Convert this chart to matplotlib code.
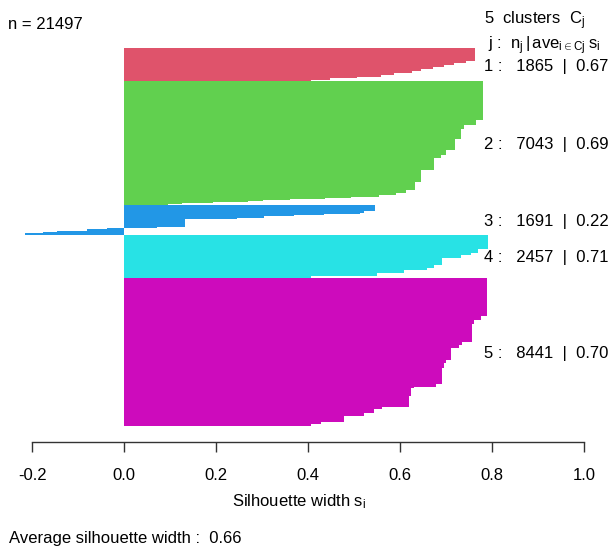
import numpy as np
import matplotlib
matplotlib.use("Agg")
import matplotlib.pyplot as plt
from matplotlib.transforms import offset_copy

plt.rcParams['font.family'] = ['Liberation Sans', 'DejaVu Sans']
plt.rcParams['mathtext.fontset'] = 'custom'
plt.rcParams['mathtext.rm'] = 'Liberation Sans'
plt.rcParams['mathtext.it'] = 'Liberation Sans'
plt.rcParams['mathtext.default'] = 'rm'

# silhouette widths per cluster, top -> bottom (sorted decreasing), with counts per step
cl1_s = [0.762, 0.742, 0.717, 0.695, 0.670, 0.644, 0.626, 0.586, 0.557, 0.506, 0.448, 0.405]
cl1_n = [728, 98, 98, 118, 137, 137, 98, 98, 98, 98, 98, 59]

cl2_s = [0.779, 0.764, 0.739, 0.731, 0.718, 0.699, 0.688, 0.673, 0.644, 0.633, 0.612,
         0.590, 0.553, 0.492, 0.437, 0.361, 0.302, 0.269, 0.193, 0.126, 0.095]
cl2_n = [2227, 284, 190, 569, 663, 284, 190, 663, 663, 474, 152,
         133, 95, 57, 57, 57, 57, 57, 57, 57, 57]

cl3_s = [0.546, 0.520, 0.513, 0.434, 0.368, 0.303, 0.245, 0.132, 0.070,
         -0.038, -0.082, -0.147, -0.176, -0.216]
cl3_n = [363, 120, 42, 60, 60, 78, 78, 440, 78, 78, 78, 78, 78, 60]

cl4_s = [0.791, 0.768, 0.753, 0.731, 0.691, 0.673, 0.659, 0.608, 0.550, 0.405]
cl4_n = [843, 188, 154, 131, 440, 131, 131, 188, 154, 97]

cl5_s = [0.788, 0.775, 0.760, 0.755, 0.735, 0.728, 0.710, 0.699, 0.695, 0.690,
         0.677, 0.630, 0.624, 0.619, 0.561, 0.542, 0.521, 0.477, 0.427, 0.405]
cl5_n = [2195, 227, 187, 1039, 187, 187, 665, 187, 284, 892,
         153, 97, 437, 608, 153, 187, 170, 341, 131, 114]

cluster_sizes = [1865, 7043, 1691, 2457, 8441]
cluster_aves = [0.67, 0.69, 0.22, 0.71, 0.70]
n_total = 21497
avg_width = 0.66
colors = ["#DF536B", "#61D04F", "#2297E6", "#28E2E5", "#CD0BBC"]
xticks = [-0.2, 0.0, 0.2, 0.4, 0.6, 0.8, 1.0]

sil = [cl1_s, cl2_s, cl3_s, cl4_s, cl5_s]
cnt = [cl1_n, cl2_n, cl3_n, cl4_n, cl5_n]

W, H = 608, 546
fig = plt.figure(figsize=(W / 100, H / 100), dpi=100)
ax = fig.add_axes([0, (H - 442.3) / H, 1, (442.3 - 32) / H])

x0, ppu = 124.3, 460.0  # pixel of x=0, pixels per unit
ax.set_xlim(-x0 / ppu, (W - x0) / ppu)
opp = n_total / 377.7
ax.set_ylim(-(442.3 - 426) * opp, n_total + (48.3 - 32) * opp)

centers = [0] * 5
bottom = 0
for k in reversed(range(5)):
    s = np.array(sil[k][::-1])
    c = np.array(cnt[k][::-1])
    ys = bottom + np.cumsum(c) - c / 2
    ax.barh(ys, s, height=c, color=colors[k], linewidth=0, antialiased=False)
    centers[k] = bottom + c.sum() / 2
    bottom += c.sum()

# cluster stats on the right
tr = offset_copy(ax.transData, fig=fig, y=-6, units='dots')
for k in range(5):
    ax.text((484 - x0) / ppu, centers[k],
            f"{k + 1} :   {cluster_sizes[k]}  |  {cluster_aves[k]:.2f}",
            transform=tr, ha='left', va='baseline', fontsize=12, clip_on=False)

# axis like R
for sp in ['top', 'left', 'right']:
    ax.spines[sp].set_visible(False)
ax.spines['bottom'].set_bounds(-0.2, 1.0)
ax.spines['bottom'].set_color('#333333')
ax.spines['bottom'].set_linewidth(1.0)
ax.set_xticks(xticks)
ax.set_xticklabels([f"{t:.1f}" for t in xticks])
ax.tick_params(axis='x', direction='out', length=7.2, width=1.0, color='#333333',
               labelsize=12, pad=11)
ax.set_yticks([])
ax.patch.set_alpha(0)


def ftxt(x, y, s, **kw):
    fig.text(x / W, 1 - y / H, s, va='baseline', fontsize=12, **kw)


ftxt(8.3, 29.3, f"n = {n_total}", ha='left')
ftxt(484, 24, r"5  clusters  $C_j$", ha='left')
ftxt(488.3, 49.3, r"j :  $n_j\,|\,ave_{i\in Cj}\;s_i$", ha='left')
ftxt(231.7, 506.7, r"Silhouette width $s_i$", ha='left')
ftxt(9.3, 542.7, f"Average silhouette width :  {avg_width:.2f}", ha='left')

fig.savefig("out.png", dpi=100)
